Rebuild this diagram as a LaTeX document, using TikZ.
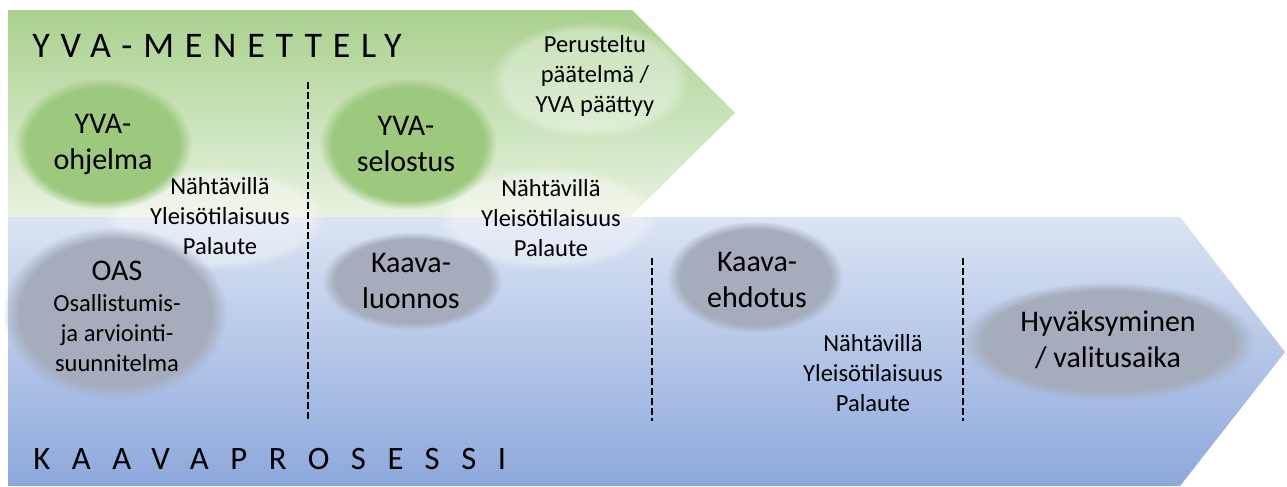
\documentclass[tikz,border=0pt]{standalone}
\usepackage{fontspec}
\setmainfont{Carlito}
\newfontfamily\titleAfont[LetterSpace=30]{Carlito}
\newfontfamily\titleBfont[LetterSpace=66]{Carlito}
\usetikzlibrary{fadings}
\definecolor{grnTop}{HTML}{A9D18E}
\definecolor{grnBot}{HTML}{E8F2E1}
\definecolor{bluTop}{HTML}{DCE4F3}
\definecolor{bluBot}{HTML}{8CA8DB}
\definecolor{ellGreen}{HTML}{9DC97F}
\definecolor{ellGrey}{HTML}{A5ADBD}
\tikzset{
  blob/.style={path fading=circle with fuzzy edge 15 percent},
  greenblob/.style={blob, fill=ellGreen},
  greyblob/.style={blob, fill=ellGrey},
  whiteblob/.style={blob, fill=white, fill opacity=0.35},
  smalltxt/.style={align=center, font=\fontsize{18.4}{22.5}\selectfont, inner sep=0pt},
  bigtxt/.style={align=center, font=\fontsize{22.5}{27}\selectfont, inner sep=0pt},
  sep/.style={line width=1.6pt, dash pattern=on 5pt off 2.5pt}
}
\begin{document}
\begin{tikzpicture}[x=0.75pt,y=-0.75pt]
\useasboundingbox (0,0) rectangle (1287,486);
% arrows
\shade[top color=grnTop, bottom color=grnBot] (8,10) -- (632,10) -- (735,113) -- (630,217) -- (8,217) -- cycle;
\shade[top color=bluTop, bottom color=bluBot] (8,217) -- (1180,217) -- (1285,352) -- (1180,486) -- (8,486) -- cycle;
% soft ellipses
\fill[whiteblob] (590,80) ellipse [x radius=100, y radius=58];
\fill[whiteblob] (215,218) ellipse [x radius=110, y radius=52];
\fill[whiteblob] (548,218) ellipse [x radius=110, y radius=52];
\fill[greenblob] (103,144) ellipse [x radius=89, y radius=66];
\fill[greenblob] (408,144) ellipse [x radius=89, y radius=66];
\fill[greyblob] (115,313) ellipse [x radius=112, y radius=86];
\fill[greyblob] (412,281) ellipse [x radius=90, y radius=49];
\fill[greyblob] (755,277) ellipse [x radius=88, y radius=56];
\fill[greyblob] (1108,341) ellipse [x radius=147, y radius=59];
% separators
\coordinate (s1t) at (308,82);  \coordinate (s1b) at (308,421);
\coordinate (s2t) at (652,258); \coordinate (s2b) at (652,421);
\coordinate (s3t) at (963,258); \coordinate (s3b) at (963,421);
\draw[sep] (s1t) -- (s1b);
\draw[sep] (s2t) -- (s2b);
\draw[sep] (s3t) -- (s3b);
% titles
\node[anchor=base west, inner sep=0pt, font=\fontsize{27}{30}\titleAfont] (yva) at (32,57) {YVA-MENETTELY};
\node[anchor=base west, inner sep=0pt, font=\fontsize{24.5}{28}\titleBfont] (kaava) at (33,469) {KAAVAPROSESSI};
% texts
\node[smalltxt] (perus) at (595,76) {Perusteltu\\päätelmä /\\YVA päättyy};
\node[bigtxt] (ohj) at (103,144) {YVA-\\ohjelma};
\node[smalltxt] (n1) at (220,216) {Nähtävillä\\Yleisötilaisuus\\Palaute};
\node[bigtxt] (sel) at (406,144) {YVA-\\selostus};
\node[smalltxt] (n2) at (551,218) {Nähtävillä\\Yleisötilaisuus\\Palaute};
\node[bigtxt] (oas) at (117,271) {OAS};
\node[smalltxt] (oast) at (117,333) {Osallistumis-\\ja arviointi-\\suunnitelma};
\node[bigtxt] (luon) at (411,281) {Kaava-\\luonnos};
\node[bigtxt] (ehd) at (757,280) {Kaava-\\ehdotus};
\node[smalltxt] (n3) at (873,373) {Nähtävillä\\Yleisötilaisuus\\Palaute};
\node[bigtxt] (hyv) at (1108,340) {Hyväksyminen\\/ valitusaika};
\end{tikzpicture}
\end{document}
